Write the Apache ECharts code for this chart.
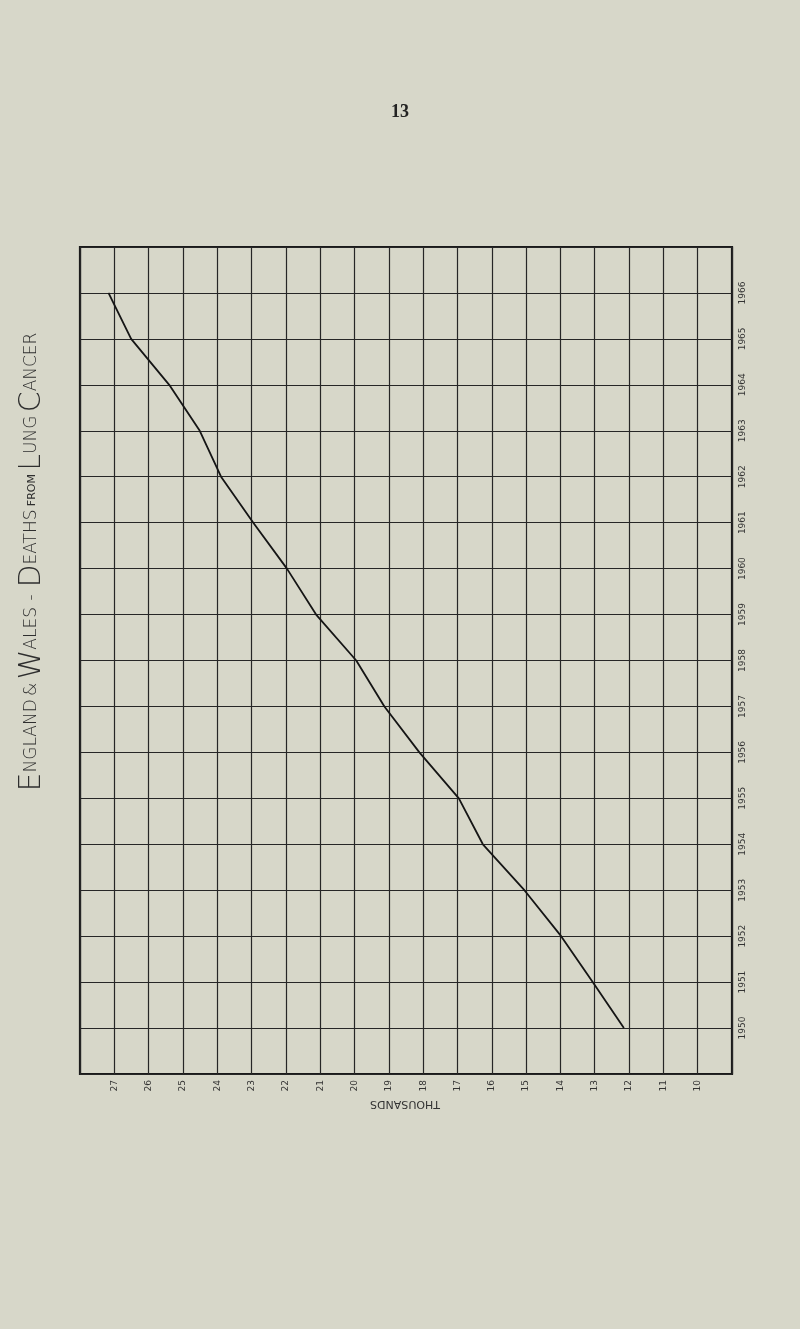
<!DOCTYPE html>
<html>
<head>
<meta charset="utf-8">
<script src="https://cdn.jsdelivr.net/npm/echarts@6/dist/echarts.min.js"></script>
<style>
html,body{margin:0;padding:0;background:#d7d7c9;}
#chart{width:800px;height:1329px;}
</style>
</head>
<body>
<div id="chart"></div>
<script>
const years = [1950,1951,1952,1953,1954,1955,1956,1957,1958,1959,1960,1961,1962,1963,1964,1965,1966];
const deathsThousands = [12.15,13.06,13.98,15.05,16.26,16.96,18.11,19.13,19.95,21.12,21.97,22.95,23.89,24.51,25.4,26.51,27.17];
const valueTickLabels = [10,11,12,13,14,15,16,17,18,19,20,21,22,23,24,25,26,27];
const yearTickLabels = years.slice();

const chart = echarts.init(document.getElementById('chart'), null, {renderer:'canvas'});
const ink = '#262626';
chart.setOption({
  backgroundColor:'#d7d7c9',
  animation:false,
  grid:{left:80,right:68,top:247,bottom:255,show:true,borderColor:'#1a1a1a',borderWidth:2.2,backgroundColor:'transparent'},
  xAxis:{
    type:'value',min:9,max:28,interval:1,inverse:true,position:'bottom',
    axisLine:{show:false},axisTick:{show:false},
    splitLine:{show:true,lineStyle:{color:ink,width:1.2}},
    axisLabel:{
      rotate:90,margin:6,fontSize:9,color:'#333',fontFamily:'DejaVu Sans',
      formatter:v=>valueTickLabels.indexOf(v)>=0?String(v):''
    }
  },
  yAxis:{
    type:'value',min:1949,max:1967,interval:1,position:'right',
    axisLine:{show:false},axisTick:{show:false},
    splitLine:{show:true,lineStyle:{color:ink,width:1.2}},
    axisLabel:{
      rotate:90,margin:6,fontSize:9,color:'#333',fontFamily:'DejaVu Sans',
      formatter:v=>yearTickLabels.indexOf(v)>=0?String(v):''
    }
  },
  series:[{
    type:'line',
    data:years.map((y,i)=>[deathsThousands[i],y]),
    symbol:'none',
    lineStyle:{color:'#151515',width:1.8},
    z:5
  }],
  graphic:[
    {type:'text',left:391,top:103,style:{text:'13',font:'bold 18px "Liberation Serif"',fill:'#222'}},
    {type:'text',x:47,y:562,rotation:Math.PI/2,
      style:{
        text:'{b|E}{s|NGLAND} {s|&} {b|W}{s|ALES}  {s|-}  {b|D}{s|EATHS} {t|FROM} {b|L}{s|UNG} {b|C}{s|ANCER}',
        align:'center',verticalAlign:'bottom',fill:'#2e2e2e',
        rich:{
          b:{fontSize:30,fontFamily:'DejaVu Sans',fontWeight:'lighter',fill:'#2e2e2e'},
          s:{fontSize:17,fontFamily:'DejaVu Sans',fontWeight:'lighter',fill:'#2e2e2e'},
          t:{fontSize:11,fontFamily:'DejaVu Sans',fill:'#2e2e2e'}
        }
      }},
    {type:'text',x:405,y:1104,rotation:Math.PI,
      style:{text:'THOUSANDS',font:'11px "DejaVu Sans"',fill:'#333',align:'center',verticalAlign:'middle'}}
  ]
});
</script>
</body>
</html>
